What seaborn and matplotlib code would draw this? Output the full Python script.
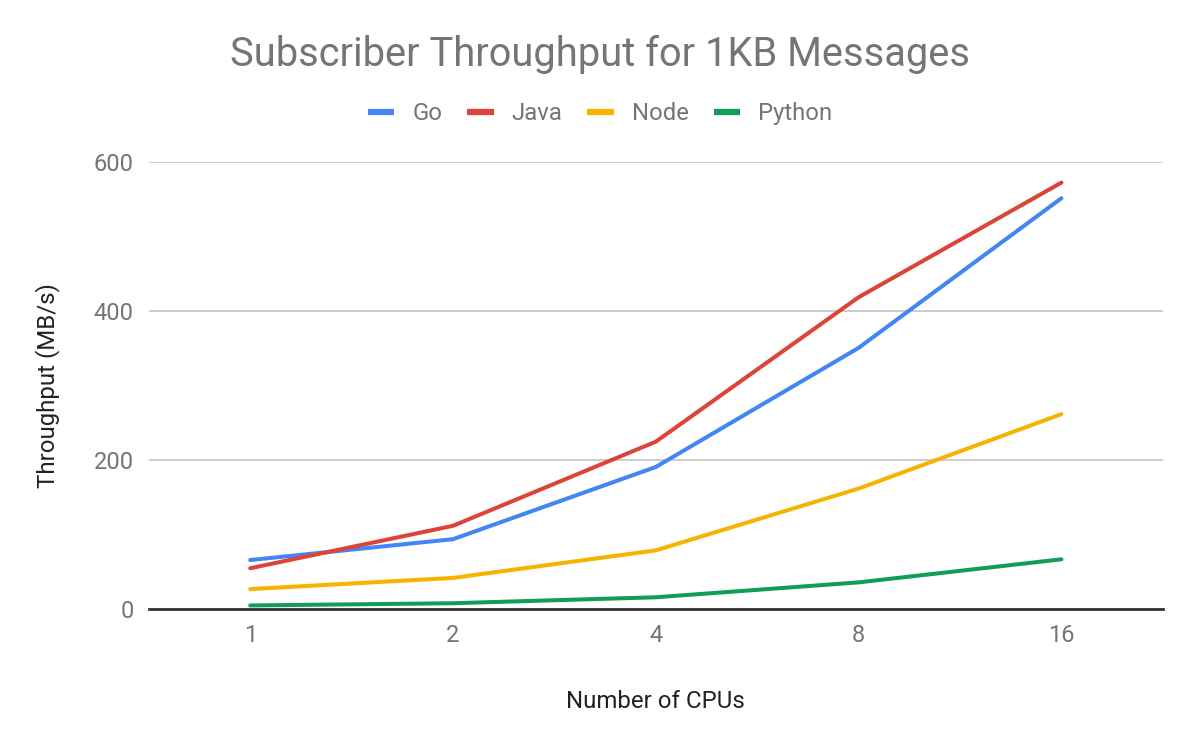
import pandas as pd
import numpy as np
import seaborn as sns
import matplotlib.pyplot as plt

#%% data

cpus = ['1', '2', '4', '8', '16']
go = [66, 94, 191, 351, 552]
java = [55, 112, 225, 419, 573]
node = [27, 42, 79, 162, 262]
python = [5, 8, 16, 36, 67]

langs = ['Go', 'Java', 'Node', 'Python']
colors = ['#4285F4', '#DB4437', '#F4B400', '#0F9D58']

df = pd.DataFrame({'CPUs': cpus * 4,
                   'Throughput': go + java + node + python,
                   'Language': np.repeat(langs, len(cpus))})

#%% plot

sns.set_style('white')
plt.rcParams['font.family'] = ['Roboto', 'DejaVu Sans']

fig = plt.figure(figsize=(12, 7.42), dpi=100)
ax = fig.add_axes([0.124, 0.179, 0.845, 0.602])

sns.lineplot(data=df, x='CPUs', y='Throughput', hue='Language',
             palette=dict(zip(langs, colors)), linewidth=2.9, ax=ax,
             legend=False)

ax.set_ylim(0, 600)
ax.set_xlim(-0.5, 4.5)
ax.set_yticks([0, 200, 400, 600])
ax.yaxis.grid(True, color='#cccccc', linewidth=1.4)
ax.set_axisbelow(True)
for s in ['top', 'right', 'left']:
    ax.spines[s].set_visible(False)
ax.spines['bottom'].set_color('#333333')
ax.spines['bottom'].set_linewidth(2)
ax.tick_params(axis='both', length=0, labelsize=17, colors='#757575')
ax.tick_params(axis='x', pad=11)
ax.tick_params(axis='y', pad=11)

ax.set_xlabel('Number of CPUs', fontsize=17.3, color='#222222')
ax.xaxis.set_label_coords(0.5, -0.18)
ax.set_ylabel('Throughput (MB/s)', fontsize=17.3, color='#222222')
ax.yaxis.set_label_coords(-0.088, 0.5)

fig.text(0.5, 0.926, 'Subscriber Throughput for 1KB Messages', ha='center',
         va='center', fontsize=28.7, color='#757575')

handles = [plt.Line2D([], [], color=c, linewidth=4.5, solid_capstyle='butt')
           for c in colors]
fig.legend(handles, langs, loc='center', bbox_to_anchor=(0.5, 0.847), ncol=4,
           frameon=False, fontsize=17.2, labelcolor='#757575', handlelength=1.1,
           handletextpad=0.75, columnspacing=1.05)

fig.savefig('out.png', dpi=100)
